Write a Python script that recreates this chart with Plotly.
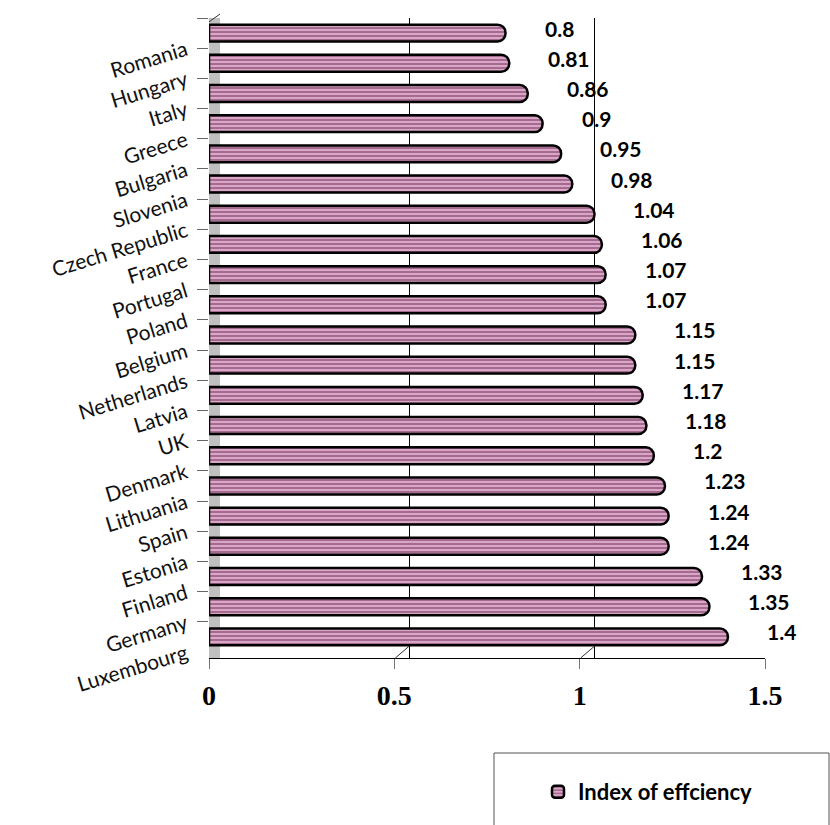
import plotly.graph_objects as go

countries = ["Romania", "Hungary", "Italy", "Greece", "Bulgaria", "Slovenia",
             "Czech Republic", "France", "Portugal", "Poland", "Belgium",
             "Netherlands", "Latvia", "UK", "Denmark", "Lithuania", "Spain",
             "Estonia", "Finland", "Germany", "Luxembourg"]
values = [0.8, 0.81, 0.86, 0.9, 0.95, 0.98, 1.04, 1.06, 1.07, 1.07, 1.15,
          1.15, 1.17, 1.18, 1.2, 1.23, 1.24, 1.24, 1.33, 1.35, 1.4]
x_ticks = [0, 0.5, 1, 1.5]
grid_ticks = [0.5, 1]
series_name = "Index of effciency"

W, H = 830, 825
L, R, T, B = 209, 65, 18, 167

fig = go.Figure()
fig.add_trace(go.Bar(
    x=values, y=countries, orientation="h", name=series_name,
    marker=dict(color="#cf95b8", cornerradius=8,
                line=dict(color="black", width=2.5),
                pattern=dict(shape="-", fgcolor="#6f2d5c", bgcolor="#d9a6c5",
                             size=4, solidity=0.5)),
    hoverinfo="x+y",
))

for v, c in zip(values, countries):
    fig.add_annotation(x=v, y=c, text=f"{v:g}", showarrow=False,
                       xanchor="left", yanchor="middle", xshift=37, yshift=5,
                       font=dict(family="Lato", size=21, color="black", weight="bold"))

# left wall (3D side panel)
fig.add_shape(type="rect", xref="x", xsizemode="pixel", xanchor=0, x0=-3, x1=11,
              yref="paper", y0=0, y1=1, fillcolor="#c0c0c0",
              line=dict(width=0), layer="below")
fig.add_shape(type="line", xref="x", xsizemode="pixel", xanchor=0, x0=-3, x1=11,
              yref="paper", ysizemode="pixel", yanchor=1, y0=-6, y1=4,
              line=dict(color="#333", width=1))

# floor depth strokes from front ticks to back gridlines
for g in grid_ticks:
    fig.add_shape(type="line", xref="x", xsizemode="pixel", xanchor=g, x0=1, x1=15,
                  yref="paper", ysizemode="pixel", yanchor=0, y0=0, y1=12,
                  line=dict(color="#333", width=1))

# legend box
pw = W - L - R
ph = H - T - B
def px_x(p):
    return (p - L) / pw
def px_y(p):
    return (H - B - p) / ph
fig.add_shape(type="rect", xref="paper", yref="paper",
              x0=px_x(494), x1=px_x(829), y0=px_y(827), y1=px_y(753),
              line=dict(color="#555", width=1), fillcolor="rgba(0,0,0,0)")

fig.update_layout(
    width=W, height=H, margin=dict(l=L, r=R, t=T, b=B, autoexpand=False),
    paper_bgcolor="white", plot_bgcolor="white",
    bargap=0.44, showlegend=True,
    legend=dict(xref="container", yref="container", x=538 / W, y=33 / H,
                xanchor="left", yanchor="middle", bgcolor="rgba(0,0,0,0)",
                font=dict(family="Lato", size=22, color="black", weight="bold")),
    xaxis=dict(range=[0, 1.5], tickvals=x_ticks, showgrid=False, zeroline=False,
               showline=True, linecolor="black", linewidth=1,
               ticks="outside", ticklen=10, tickcolor="#777",
               ticklabelstandoff=2,
               tickfont=dict(family="Liberation Serif", size=28, color="black", weight="bold")),
    xaxis2=dict(overlaying="x", range=[-0.04, 1.46], tickvals=grid_ticks,
                showgrid=True, gridcolor="black", gridwidth=1,
                showticklabels=False, ticks="", zeroline=False, showline=False,
                side="top"),
    yaxis=dict(type="category", categoryorder="array", categoryarray=countries,
               range=[20.7, -0.5], tickson="boundaries", ticks="outside",
               ticklen=11, tickcolor="#666", tickangle=-17, ticklabelshift=-15,
               ticklabelstandoff=22, showgrid=False, showline=False, zeroline=False,
               tickfont=dict(family="Lato", size=21, color="#111")),
)
fig.add_trace(go.Scatter(x=[None], y=[None], xaxis="x2", showlegend=False,
                         hoverinfo="skip"))

fig.write_html("out.html")
